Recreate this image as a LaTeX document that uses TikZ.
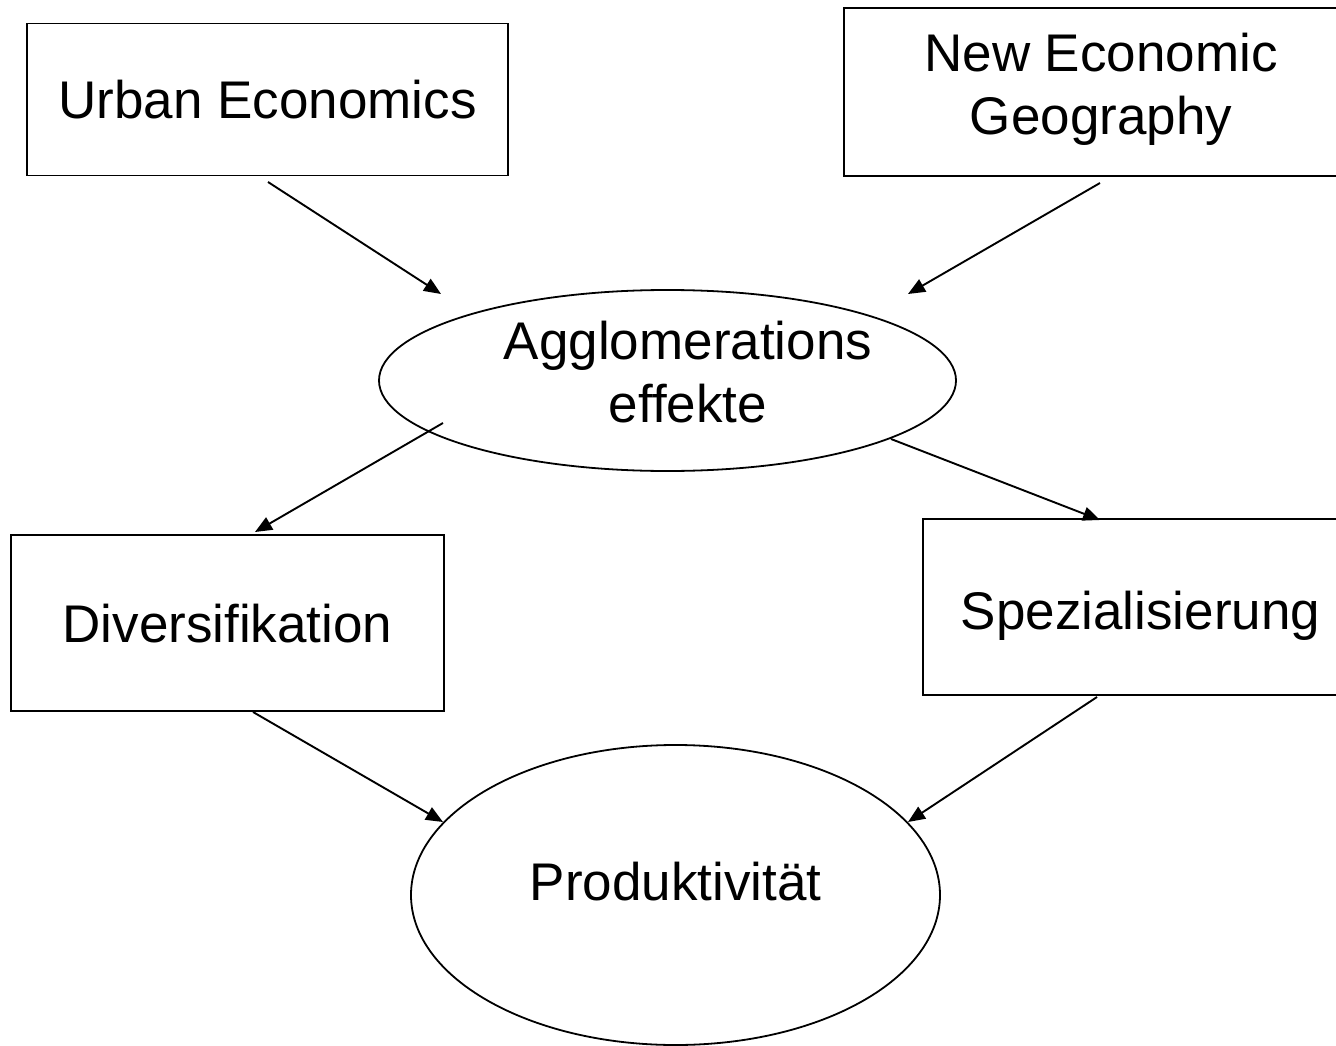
\documentclass[tikz,border=0pt]{standalone}
\usepackage{fontspec}
\setmainfont{Liberation Sans}[Ligatures=CommonOff]
\usetikzlibrary{shapes.geometric,arrows.meta}
\newcommand{\bigfont}{\fontsize{53}{63}\selectfont}
\tikzset{
  box/.style={draw, rectangle, line width=1.8pt, inner sep=0pt, font=\bigfont, align=center},
  ell/.style={draw, ellipse, line width=1.8pt, inner sep=0pt, font=\bigfont, align=center},
  txt/.style={inner sep=0pt, font=\bigfont, align=center},
  arr/.style={-{Triangle[length=17pt,width=14pt]}, line width=1.9pt}
}
\begin{document}
\begin{tikzpicture}[x=1pt,y=-1pt]
\useasboundingbox (0,0) rectangle (1336,1046);
% boxes
\node[box, minimum width=481pt, minimum height=152pt, text height=38pt, text depth=0pt] (ue) at (267.5,99.5) {Urban Economics};
\node[box, minimum width=514pt, minimum height=168pt, text height=101pt, text depth=15pt] (neg) at (1101,92) {New Economic\\Geography};
\node[box, minimum width=433pt, minimum height=176pt, text height=38pt, text depth=0pt] (div) at (227.5,623) {Diversifikation};
\node[box, minimum width=435pt, minimum height=176pt, text height=44pt, text depth=0pt] (spe) at (1140.5,607) {Spezialisierung};
% ellipses
\node[ell, minimum width=577pt, minimum height=181pt] (agg) at (667.5,380.5) {};
\node[txt] (aggtext) at (688,372) {Agglomerations\\effekte};
\node[ell, minimum width=529pt, minimum height=300pt, text height=38.7pt, text depth=28pt] (prod) at (675.5,895) {Produktivit\"at};
% connector end points
\coordinate (ue-out) at (268,182);
\coordinate (agg-inl) at (441,294);
\coordinate (neg-out) at (1100,183);
\coordinate (agg-inr) at (908,294);
\coordinate (agg-outl) at (443,423);
\coordinate (div-in) at (255,532);
\coordinate (agg-outr) at (891,439);
\coordinate (spe-in) at (1100,520);
\coordinate (div-out) at (253,712);
\coordinate (prod-inl) at (443,822);
\coordinate (spe-out) at (1097,697);
\coordinate (prod-inr) at (908,822);
% connectors
\draw[arr] (ue-out) -- (agg-inl);
\draw[arr] (neg-out) -- (agg-inr);
\draw[arr] (agg-outl) -- (div-in);
\draw[arr] (agg-outr) -- (spe-in);
\draw[arr] (div-out) -- (prod-inl);
\draw[arr] (spe-out) -- (prod-inr);
\end{tikzpicture}
\end{document}
